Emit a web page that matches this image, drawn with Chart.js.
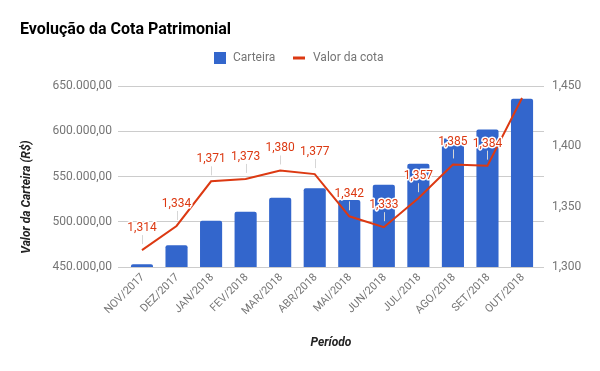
<!DOCTYPE html>
<html>
<head>
<meta charset="utf-8">
<script src="https://cdn.jsdelivr.net/npm/chart.js@4.4.1/dist/chart.umd.min.js"></script>
<style>
  html, body { margin: 0; padding: 0; background: #fff; }
  #wrap { width: 600px; height: 371px; position: relative; }
</style>
</head>
<body>
<div id="wrap"><canvas id="c" width="600" height="371"></canvas></div>
<script>
const categories = ["NOV/2017","DEZ/2017","JAN/2018","FEV/2018","MAR/2018","ABR/2018","MAI/2018","JUN/2018","JUL/2018","AGO/2018","SET/2018","OUT/2018"];
const carteira = [453000, 474000, 501000, 511000, 526500, 537000, 524000, 541000, 564000, 592000, 602000, 636000];
const valorCota = [1.314, 1.334, 1.371, 1.373, 1.380, 1.377, 1.342, 1.333, 1.357, 1.385, 1.384, 1.440];
const showLabel = [true, true, true, true, true, true, true, true, true, true, true, false];
const leftTicks = [450000, 500000, 550000, 600000, 650000];
const rightTicks = [1.30, 1.35, 1.40, 1.45];

const BLUE = '#3366cc', RED = '#dc3912';
const FONT = 'Roboto, "Noto Sans", Arial, sans-serif';

// Category scale whose category band is inset inside the plot area (as in the reference)
class InsetCategory extends Chart.CategoryScale {
  configure() {
    super.configure();
    const l = this.options.insetLeft || 0, r = this.options.insetRight || 0;
    this._startPixel += l;
    this._endPixel -= r;
    this._length = this._endPixel - this._startPixel;
  }
}
InsetCategory.id = 'insetCategory';
InsetCategory.defaults = Chart.CategoryScale.defaults;
Chart.register(InsetCategory);

function fmtMoney(v) {
  const s = Math.round(v).toString().replace(/\B(?=(\d{3})+(?!\d))/g, '.');
  return s + ',00';
}
function fmtCota(v) { return v.toFixed(3).replace('.', ','); }

const decor = {
  id: 'decor',
  afterDraw(chart) {
    const ctx = chart.ctx;
    ctx.save();
    ctx.fillStyle = '#000';
    ctx.font = 'bold 16px ' + FONT;
    ctx.textBaseline = 'alphabetic';
    ctx.textAlign = 'left';
    ctx.fillText('Evolução da Cota Patrimonial', 20, 34);
    ctx.fillStyle = BLUE;
    ctx.fillRect(214, 52, 12, 12);
    ctx.font = '12px ' + FONT;
    ctx.fillStyle = '#757575';
    ctx.textBaseline = 'middle';
    ctx.fillText('Carteira', 233, 58);
    ctx.fillStyle = RED;
    ctx.fillRect(293, 56.5, 12, 3);
    ctx.fillStyle = '#757575';
    ctx.fillText('Valor da cota', 313, 58);
    ctx.fillStyle = '#222';
    ctx.font = 'italic bold 12px ' + FONT;
    ctx.textAlign = 'center';
    ctx.fillText('Período', (chart.chartArea.left + chart.chartArea.right) / 2, 343);
    ctx.translate(27, 197);
    ctx.rotate(-Math.PI / 2);
    ctx.fillText('Valor da Carteira (R$)', 0, 0);
    ctx.restore();

    const meta = chart.getDatasetMeta(1);
    ctx.save();
    ctx.font = '12px ' + FONT;
    ctx.textAlign = 'center';
    ctx.textBaseline = 'middle';
    meta.data.forEach((pt, i) => {
      if (!showLabel[i]) return;
      const x = pt.x, y = pt.y;
      const ty = y - 22;
      ctx.strokeStyle = '#d6d6d6';
      ctx.lineWidth = 1;
      ctx.beginPath();
      ctx.moveTo(Math.round(x) + 0.5, ty + 7);
      ctx.lineTo(Math.round(x) + 0.5, y - 6);
      ctx.stroke();
      const t = fmtCota(valorCota[i]);
      ctx.lineJoin = 'round';
      ctx.strokeStyle = '#fff';
      ctx.lineWidth = 3;
      ctx.strokeText(t, x, ty);
      ctx.fillStyle = RED;
      ctx.fillText(t, x, ty);
    });
    ctx.restore();
  }
};

new Chart(document.getElementById('c'), {
  data: {
    labels: categories,
    datasets: [
      {
        type: 'bar', label: 'Carteira', data: carteira, yAxisID: 'y',
        backgroundColor: BLUE, borderRadius: { topLeft: 2, topRight: 2 }, borderSkipped: 'bottom',
        barPercentage: 0.64, categoryPercentage: 1, order: 2
      },
      {
        type: 'line', label: 'Valor da cota', data: valorCota, yAxisID: 'y1',
        borderColor: RED, borderWidth: 2, pointRadius: 0, tension: 0, fill: false, order: 1
      }
    ]
  },
  options: {
    responsive: false,
    animation: false,
    layout: { padding: { top: 86, left: 0, right: 0, bottom: 0 } },
    plugins: { legend: { display: false }, title: { display: false }, tooltip: { enabled: false } },
    scales: {
      x: {
        type: 'insetCategory', offset: true, insetLeft: 6.7, insetRight: 4.7,
        grid: { display: false, drawTicks: false },
        border: { display: false },
        ticks: { minRotation: 45, maxRotation: 45, color: '#757575', font: { family: FONT, size: 11 }, padding: 4, labelOffset: 1 },
        afterFit(s) { s.height = 104; }
      },
      y: {
        position: 'left', min: 450000, max: 650000,
        afterBuildTicks(s) { s.ticks = leftTicks.map(v => ({ value: v })); },
        grid: { color: '#cccccc', drawTicks: false },
        border: { display: false },
        ticks: { color: '#757575', font: { family: FONT, size: 12 }, padding: 6, callback: v => fmtMoney(v) },
        afterFit(s) { s.width = 118; }
      },
      y1: {
        position: 'right', min: 1.30, max: 1.45,
        afterBuildTicks(s) { s.ticks = rightTicks.map(v => ({ value: v })); },
        grid: { display: false, drawTicks: false },
        border: { display: false },
        ticks: { color: '#757575', font: { family: FONT, size: 12 }, padding: 8, callback: v => fmtCota(v) },
        afterFit(s) { s.width = 56; }
      }
    }
  },
  plugins: [decor]
});
</script>
</body>
</html>
